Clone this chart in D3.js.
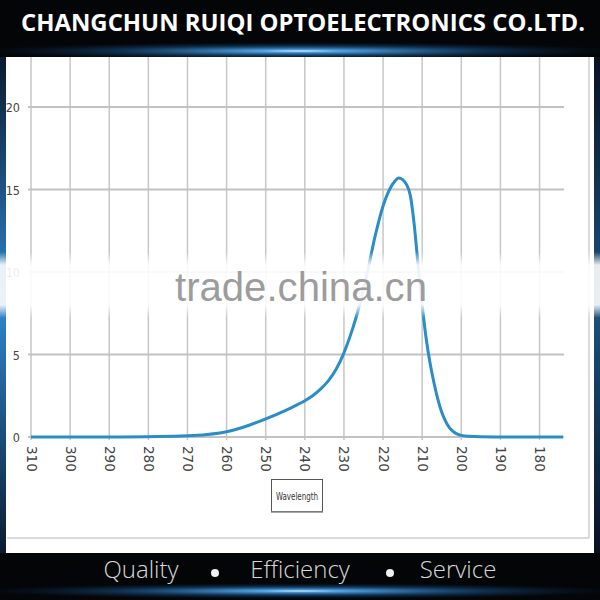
<!DOCTYPE html>
<html><head><meta charset="utf-8">
<script src="https://cdn.jsdelivr.net/npm/d3@7"></script>
<style>html,body{margin:0;padding:0;background:#000;overflow:hidden}</style>
</head><body>
<svg id="c" width="600" height="600"></svg>
<script>
const wavelengths = [310,300,290,280,270,265,260,255,250,245,242,240,238,236,234,232,230,228,226,224,222,220,218,217,216,215,214,213,212,211,210,209,208,207,206,205,204,203,202,201,200,198,195,190,180,174];
const intensity   = [0,0,0,0.02,0.07,0.15,0.32,0.65,1.1,1.6,1.95,2.2,2.5,2.9,3.4,4.1,5.1,6.4,8.0,10.0,12.2,14.0,15.15,15.5,15.7,15.6,15.3,14.6,12.8,10.3,8.0,6.0,4.5,3.3,2.3,1.5,0.95,0.55,0.32,0.17,0.1,0.04,0.01,0,0,0];
const xTicks = [310,300,290,280,270,260,250,240,230,220,210,200,190,180];
const yTicks = [0,5,10,15,20];
const headerText = "CHANGCHUN RUIQI OPTOELECTRONICS CO.LTD.";
const footerWords = ["Quality","Efficiency","Service"];
const axisLabel = "Wavelength";
const watermark = "trade.china.cn";

const svg = d3.select("#c");
const defs = svg.append("defs");

const g1 = defs.append("radialGradient").attr("id","glow").attr("cx","50%").attr("cy","50%").attr("r","50%");
g1.append("stop").attr("offset","0%").attr("stop-color","#e8f6ff").attr("stop-opacity",1);
g1.append("stop").attr("offset","12%").attr("stop-color","#5ab8ff").attr("stop-opacity",0.9);
g1.append("stop").attr("offset","55%").attr("stop-color","#1c5d9a").attr("stop-opacity",0.5);
g1.append("stop").attr("offset","100%").attr("stop-color","#0a2340").attr("stop-opacity",0);
const band = defs.append("linearGradient").attr("id","band").attr("x1",0).attr("y1",0).attr("x2",0).attr("y2",1);
band.append("stop").attr("offset","0%").attr("stop-color","#fff").attr("stop-opacity",0);
band.append("stop").attr("offset","20%").attr("stop-color","#fff").attr("stop-opacity",0.9);
band.append("stop").attr("offset","80%").attr("stop-color","#fff").attr("stop-opacity",0.9);
band.append("stop").attr("offset","100%").attr("stop-color","#fff").attr("stop-opacity",0);
const side = defs.append("linearGradient").attr("id","side").attr("x1",0).attr("y1",0).attr("x2",0).attr("y2",1);
side.append("stop").attr("offset","0%").attr("stop-color","#0b1a2e");
side.append("stop").attr("offset","50%").attr("stop-color","#2f86d0");
side.append("stop").attr("offset","100%").attr("stop-color","#0b1a2e");

svg.append("rect").attr("width",600).attr("height",600).attr("fill","#030507");
svg.append("ellipse").attr("cx",300).attr("cy",51).attr("rx",330).attr("ry",9).attr("fill","url(#glow)");
svg.append("ellipse").attr("cx",300).attr("cy",591).attr("rx",330).attr("ry",8).attr("fill","url(#glow)");
svg.append("rect").attr("x",0).attr("y",57).attr("width",6).attr("height",496).attr("fill","url(#side)");
svg.append("rect").attr("x",594).attr("y",57).attr("width",6).attr("height",496).attr("fill","url(#side)").attr("opacity",0.6);

svg.append("text").attr("x",303).attr("y",31).attr("text-anchor","middle")
  .attr("font-family","Open Sans").attr("font-weight",700).attr("font-size",24)
  .attr("textLength",564).attr("lengthAdjust","spacingAndGlyphs")
  .attr("fill","#fff").text(headerText);

svg.append("rect").attr("x",6).attr("y",57).attr("width",588).attr("height",496).attr("fill","#fff");
svg.append("line").attr("x1",7).attr("x2",589).attr("y1",538).attr("y2",538).attr("stroke","#cfcfcf").attr("stroke-width",1.5);
svg.append("line").attr("x1",589).attr("x2",589).attr("y1",57).attr("y2",538).attr("stroke","#cfcfcf").attr("stroke-width",1.5);

const x = d3.scaleLinear().domain([310,174]).range([31,563]);
const y = d3.scaleLinear().domain([0,20]).range([437,107]);

const grid = svg.append("g");
grid.selectAll(".v").data(xTicks).join("line")
  .attr("x1",d=>x(d)).attr("x2",d=>x(d)).attr("y1",57).attr("y2",440)
  .attr("stroke","#c6c6c6").attr("stroke-width",1.5);
grid.selectAll(".h").data(yTicks).join("line")
  .attr("x1",28).attr("x2",564).attr("y1",d=>y(d)).attr("y2",d=>y(d))
  .attr("stroke","#c2c2c2").attr("stroke-width",1.8);

svg.append("g").selectAll("text").data(yTicks).join("text")
  .attr("x",20).attr("y",d=>y(d)+5).attr("text-anchor","end")
  .attr("font-family","DejaVu Sans Condensed, DejaVu Sans").attr("font-size",12.5).attr("fill","#444")
  .text(d=>d);

svg.append("g").selectAll("text").data(xTicks).join("text")
  .attr("transform",d=>`translate(${x(d)-4.5},446) rotate(90)`)
  .attr("text-anchor","start")
  .attr("font-family","DejaVu Sans").attr("font-size",13.5).attr("fill","#444")
  .text(d=>d);

const data = wavelengths.map((w,i)=>[w,intensity[i]]);
const line = d3.line().x(d=>x(d[0])).y(d=>y(d[1])).curve(d3.curveMonotoneX);
svg.append("path").datum(data).attr("d",line).attr("fill","none")
  .attr("stroke","#2b8dc6").attr("stroke-width",3).attr("stroke-linejoin","round");

svg.append("rect").attr("x",271.5).attr("y",479.5).attr("width",51).attr("height",32)
  .attr("fill","#fff").attr("stroke","#555").attr("stroke-width",1);
svg.append("line").attr("x1",271).attr("x2",323).attr("y1",512).attr("y2",512).attr("stroke","#888").attr("stroke-width",1.5);
svg.append("text").attr("x",297).attr("y",500).attr("text-anchor","middle")
  .attr("font-family","DejaVu Sans Condensed, DejaVu Sans").attr("font-size",10.5)
  .attr("textLength",42).attr("lengthAdjust","spacingAndGlyphs").attr("fill","#333").text(axisLabel);

svg.append("rect").attr("x",0).attr("y",252).attr("width",600).attr("height",66).attr("fill","url(#band)");
svg.append("text").attr("x",175).attr("y",301).attr("font-family","Liberation Sans, Arial").attr("font-size",40)
  .attr("textLength",252).attr("lengthAdjust","spacingAndGlyphs")
  .attr("fill","#9c9c9c").text(watermark);

const fx = [141,300,458];
svg.append("g").selectAll("text").data(footerWords).join("text")
  .attr("x",(d,i)=>fx[i]).attr("y",578).attr("text-anchor","middle")
  .attr("font-family","Open Sans").attr("font-weight",300).attr("font-size",24).attr("fill","#d8d8d8")
  .text(d=>d);
svg.append("g").selectAll("circle").data([215,390]).join("circle")
  .attr("cx",d=>d).attr("cy",573).attr("r",4).attr("fill","#f0f0f0");
</script>
</body></html>
